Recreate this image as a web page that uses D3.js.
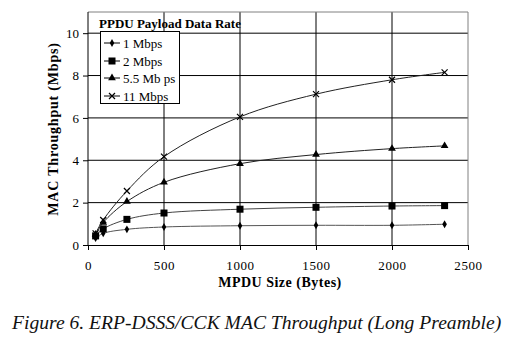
<!DOCTYPE html>
<html><head><meta charset="utf-8">
<script src="https://cdn.jsdelivr.net/npm/d3@7"></script>
<style>body{margin:0;background:#fff}svg{display:block}</style>
</head><body>
<svg id="c" width="515" height="343"></svg>
<script>
const sizes = [50, 100, 256, 500, 1000, 1500, 2000, 2346];
const seriesNames = ["1 Mbps", "2 Mbps", "5.5 Mb ps", "11 Mbps"];
const s1 = [0.33, 0.55, 0.74, 0.85, 0.91, 0.93, 0.93, 0.98];
const s2 = [0.43, 0.76, 1.21, 1.51, 1.69, 1.78, 1.84, 1.86];
const s55 = [0.50, 1.06, 2.05, 2.96, 3.84, 4.27, 4.55, 4.68];
const s11 = [0.55, 1.18, 2.55, 4.17, 6.05, 7.12, 7.80, 8.15];
const xTicks = [0, 500, 1000, 1500, 2000, 2500];
const yTicks = [0, 2, 4, 6, 8, 10];
const markers = ["diamond", "square", "triangle", "cross"];
const allSeries = [s1, s2, s55, s11];

const svg = d3.select("#c");
const m = {l: 88, r: 468, t: 12, b: 245};
const x = d3.scaleLinear().domain([0, 2500]).range([m.l, m.r]);
const y = d3.scaleLinear().domain([0, 11]).range([m.b, m.t]);
const font = "'Liberation Serif','Times New Roman',serif";

// grid
svg.append("g").selectAll("line").data(yTicks.filter(d => d > 0)).join("line")
  .attr("x1", m.l).attr("x2", m.r).attr("y1", d => y(d)).attr("y2", d => y(d))
  .attr("stroke", "#000").attr("stroke-width", 1);
svg.append("g").selectAll("line").data(xTicks.filter(d => d > 0 && d < 2500)).join("line")
  .attr("x1", d => x(d)).attr("x2", d => x(d)).attr("y1", m.t).attr("y2", m.b)
  .attr("stroke", "#000").attr("stroke-width", 1);
// border top/right
svg.append("path").attr("d", `M${m.l},${m.t}H${m.r}V${m.b}`).attr("fill", "none").attr("stroke", "#808080");

// axes
const xa = svg.append("g").attr("transform", `translate(0,${m.b})`)
  .call(d3.axisBottom(x).tickValues(xTicks).tickSize(5).tickSizeOuter(0).tickFormat(d3.format("d")));
const ya = svg.append("g").attr("transform", `translate(${m.l},0)`)
  .call(d3.axisLeft(y).tickValues(yTicks).tickSize(5).tickSizeOuter(0));
[xa, ya].forEach(a => {
  a.select(".domain").attr("stroke", "#000");
  a.selectAll(".tick line").attr("stroke", "#000");
  a.selectAll("text").attr("font-family", font).attr("font-size", 13).attr("fill", "#000");
});
xa.selectAll("text").attr("dy", "0.71em").attr("y", 16).attr("letter-spacing", 0.6);
ya.selectAll("text").attr("x", -9);
ya.select(".domain").attr("d", `M0,${m.b}V${m.t}`);

// titles
svg.append("text").attr("x", 280).attr("y", 287).attr("text-anchor", "middle")
  .attr("font-family", font).attr("font-weight", "bold").attr("font-size", 14).attr("letter-spacing", 0.5)
  .text("MPDU  Size (Bytes)");
svg.append("text").attr("transform", "translate(58,129) rotate(-90)").attr("text-anchor", "middle")
  .attr("font-family", font).attr("font-weight", "bold").attr("font-size", 14).attr("letter-spacing", 0.8)
  .text("MAC Throughput (Mbps)");

// series
const line = d3.line().x((d, i) => x(sizes[i])).y(d => y(d)).curve(d3.curveCatmullRom);
const colors = ["#555", "#444", "#222", "#222"];
function drawMarker(g, type, cx, cy) {
  if (type === "diamond") g.append("path").attr("d", d3.symbol(d3.symbolDiamond, 18)()).attr("transform", `translate(${cx},${cy})`).attr("fill", "#000");
  if (type === "square") g.append("rect").attr("x", cx - 3.5).attr("y", cy - 3.5).attr("width", 7).attr("height", 7).attr("fill", "#000");
  if (type === "triangle") g.append("path").attr("d", d3.symbol(d3.symbolTriangle, 26)()).attr("transform", `translate(${cx},${cy})`).attr("fill", "#000");
  if (type === "cross") g.append("path").attr("d", `M${cx-3},${cy-3}L${cx+3},${cy+3}M${cx-3},${cy+3}L${cx+3},${cy-3}`).attr("stroke", "#000").attr("stroke-width", 1.2);
}
allSeries.forEach((s, k) => {
  const g = svg.append("g");
  g.append("path").attr("d", line(s)).attr("fill", "none").attr("stroke", colors[k]).attr("stroke-width", 1);
  s.forEach((v, i) => drawMarker(g, markers[k], x(sizes[i]), y(v)));
});

// legend
svg.append("text").attr("x", 99).attr("y", 28).attr("font-family", font).attr("font-weight", "bold")
  .attr("font-size", 13).text("PPDU Payload  Data Rate");
const lg = svg.append("g");
lg.append("rect").attr("x", 100.5).attr("y", 31.5).attr("width", 79).attr("height", 72)
  .attr("fill", "#fff").attr("stroke", "#000");
const rowY = [43, 61, 78, 96];
seriesNames.forEach((n, k) => {
  lg.append("line").attr("x1", 104).attr("x2", 120).attr("y1", rowY[k]).attr("y2", rowY[k]).attr("stroke", "#000");
  drawMarker(lg, markers[k], 112, rowY[k]);
  lg.append("text").attr("x", 123).attr("y", rowY[k] + 4.5).attr("font-family", font).attr("font-size", 13).text(n);
});

// caption
svg.append("text").attr("x", 12).attr("y", 329).attr("font-family", font).attr("font-style", "italic")
  .attr("font-size", 19.6).attr("fill", "#111").text("Figure 6. ERP-DSSS/CCK MAC Throughput (Long Preamble)");
</script>
</body></html>
